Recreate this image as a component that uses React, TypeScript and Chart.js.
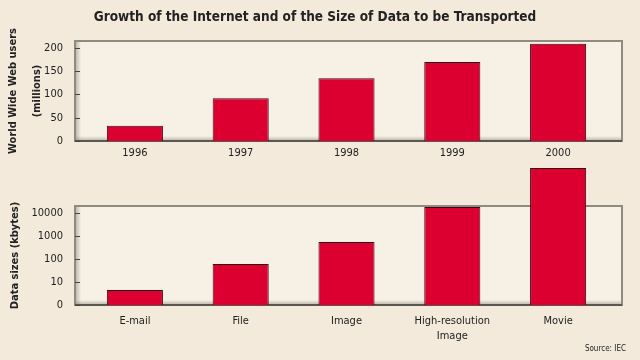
import React, { useEffect, useRef } from "react";
import { Chart, registerables } from "chart.js";

Chart.register(...registerables);

const chartTitle = "Growth of the Internet and of the Size of Data to be Transported";
const years = ["1996", "1997", "1998", "1999", "2000"];
const users = [33, 92, 135, 170, 209];
const userTicks = [0, 50, 100, 150, 200];

const dataTypes = ["E-mail", "File", "Image", ["High-resolution", "Image"], "Movie"];
const sizes = [4.5, 60, 550, 18000, 900000];
const sizeTicks = [1, 10, 100, 1000, 10000];

const FONT = "'Liberation Sans Narrow', 'DejaVu Sans Condensed', sans-serif";
const BG = "#f3eadb";
const RED = "#dc0030";
const INK = "#222222";
const BOX = "#8f8a82";
const BOX_LEFT = 75;
const BOX_RIGHT = 622;

const boxPlugin = {
  id: "box",
  beforeDatasetsDraw(chart: any) {
    const { ctx, chartArea } = chart;
    const { top, bottom } = chartArea;
    const left = BOX_LEFT;
    const right = BOX_RIGHT;
    ctx.save();
    ctx.fillStyle = "#f6f0e5";
    ctx.fillRect(left, top, right - left, bottom - top);
    const g = ctx.createLinearGradient(left, 0, left + 6, 0);
    g.addColorStop(0, "rgba(110,100,90,0.45)");
    g.addColorStop(1, "rgba(110,100,90,0)");
    ctx.fillStyle = g;
    ctx.fillRect(left, top, 6, bottom - top);
    const g2 = ctx.createLinearGradient(0, bottom, 0, bottom - 5);
    g2.addColorStop(0, "rgba(110,100,90,0.45)");
    g2.addColorStop(1, "rgba(110,100,90,0)");
    ctx.fillStyle = g2;
    ctx.fillRect(left, bottom - 5, right - left, 5);
    ctx.strokeStyle = BOX;
    ctx.lineWidth = 2;
    ctx.strokeRect(left, top, right - left, bottom - top);
    ctx.strokeStyle = "#5a5650";
    ctx.beginPath();
    ctx.moveTo(left, bottom);
    ctx.lineTo(right, bottom);
    ctx.stroke();
    const y = chart.scales.y;
    ctx.strokeStyle = "#444";
    ctx.lineWidth = 1;
    y.ticks.forEach((t: any) => {
      const py = Math.round(y.getPixelForValue(t.value)) + 0.5;
      ctx.beginPath();
      ctx.moveTo(left, py);
      ctx.lineTo(left + 5, py);
      ctx.stroke();
    });
    ctx.restore();
  },
};

const titlePlugin = {
  id: "mainTitle",
  afterDraw(chart: any) {
    const { ctx } = chart;
    ctx.save();
    ctx.fillStyle = INK;
    ctx.font = `bold 13.5px ${FONT}`;
    ctx.textAlign = "center";
    ctx.textBaseline = "middle";
    ctx.fillText(chartTitle, 315, 17);
    ctx.restore();
  },
};

const sourcePlugin = {
  id: "source",
  afterDraw(chart: any) {
    const { ctx } = chart;
    ctx.save();
    ctx.fillStyle = INK;
    ctx.font = `8px ${FONT}`;
    ctx.textAlign = "right";
    ctx.textBaseline = "middle";
    ctx.fillText("Source: IEC", 626, 189);
    ctx.restore();
  },
};

function TopChart() {
  const ref = useRef<HTMLCanvasElement>(null);
  useEffect(() => {
    const chart = new Chart(ref.current!, {
      type: "bar",
      data: {
        labels: years,
        datasets: [
          {
            data: users,
            backgroundColor: RED,
            borderColor: "#3a0a10",
            borderWidth: 1,
            barPercentage: 0.53,
            categoryPercentage: 1,
          },
        ],
      },
      plugins: [boxPlugin, titlePlugin],
      options: {
        responsive: false,
        animation: false,
        layout: { padding: { left: 0, right: 29, top: 41, bottom: 0 } },
        plugins: {
          legend: { display: false },
          tooltip: { enabled: false },
          title: { display: false },
        },
        scales: {
          x: {
            grid: { display: false },
            border: { display: false },
            ticks: { color: INK, font: { family: FONT, size: 11 }, padding: -2 },
            afterFit(scale: any) {
              scale.height = 24;
            },
          },
          y: {
            min: 0,
            max: 215,
            grid: { display: false },
            border: { display: false },
            afterBuildTicks(scale: any) {
              scale.ticks = userTicks.map((v) => ({ value: v }));
            },
            ticks: { color: INK, font: { family: FONT, size: 11 }, padding: 11 },
            title: {
              display: true,
              text: ["World Wide Web users", "(millions)"],
              color: INK,
              font: { family: FONT, size: 11, weight: "bold", lineHeight: 2.1 },
              padding: { top: 2, bottom: 0 },
            },
            afterFit(scale: any) {
              scale.width = 82;
            },
          },
        },
      },
    });
    return () => chart.destroy();
  }, []);
  return (
    <canvas
      ref={ref}
      width={640}
      height={165}
      style={{ position: "absolute", left: 0, top: 0, width: 640, height: 165 }}
    />
  );
}

function BottomChart() {
  const ref = useRef<HTMLCanvasElement>(null);
  useEffect(() => {
    const chart = new Chart(ref.current!, {
      type: "bar",
      data: {
        labels: dataTypes as any,
        datasets: [
          {
            data: sizes,
            backgroundColor: RED,
            borderColor: "#3a0a10",
            borderWidth: 1,
            barPercentage: 0.53,
            categoryPercentage: 1,
            clip: false as any,
          },
        ],
      },
      plugins: [boxPlugin, sourcePlugin],
      options: {
        responsive: false,
        animation: false,
        layout: { padding: { left: 0, right: 29, top: 46, bottom: 0 } },
        plugins: {
          legend: { display: false },
          tooltip: { enabled: false },
        },
        scales: {
          x: {
            grid: { display: false },
            border: { display: false },
            ticks: { color: INK, font: { family: FONT, size: 11, lineHeight: 1.35 }, padding: 1 },
            afterFit(scale: any) {
              scale.height = 55;
            },
          },
          y: {
            type: "logarithmic",
            min: 1,
            max: 20000,
            grid: { display: false },
            border: { display: false },
            afterBuildTicks(scale: any) {
              scale.ticks = sizeTicks.map((v) => ({ value: v }));
            },
            ticks: {
              color: INK,
              font: { family: FONT, size: 11 },
              padding: 11,
              callback: (v: any) => (Number(v) === 1 ? "0" : String(v)),
            },
            title: {
              display: true,
              text: "Data sizes (kbytes)",
              color: INK,
              font: { family: FONT, size: 11, weight: "bold" },
              padding: { top: 9, bottom: 0 },
            },
            afterFit(scale: any) {
              scale.width = 82;
            },
          },
        },
      },
    });
    return () => chart.destroy();
  }, []);
  return (
    <canvas
      ref={ref}
      width={640}
      height={200}
      style={{ position: "absolute", left: 0, top: 160, width: 640, height: 200 }}
    />
  );
}

export default function App() {
  return (
    <div
      style={{
        position: "fixed",
        left: 0,
        top: 0,
        width: 640,
        height: 360,
        background: BG,
        overflow: "hidden",
      }}
    >
      <TopChart />
      <BottomChart />
    </div>
  );
}
